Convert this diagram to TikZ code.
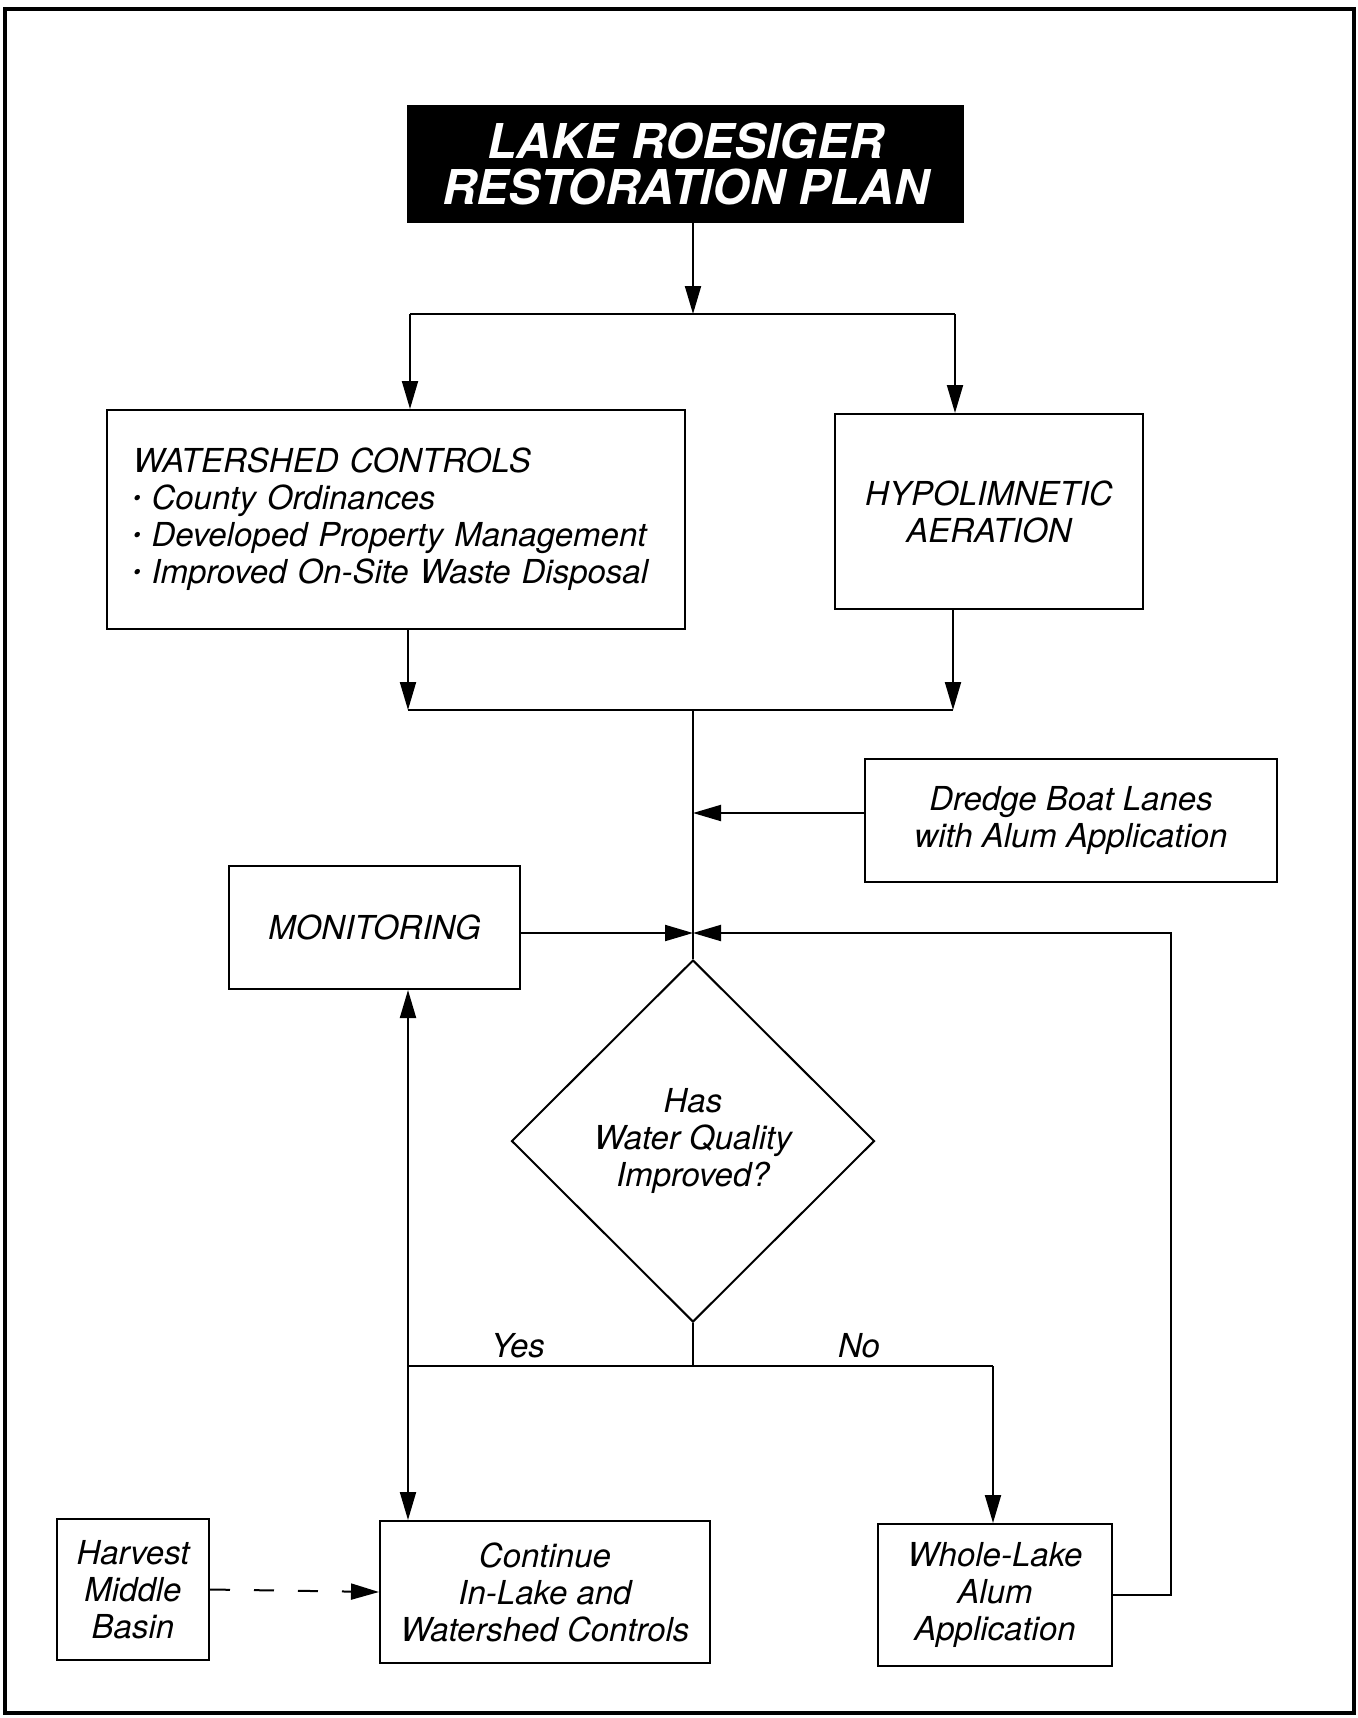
\documentclass[tikz,border=0pt]{standalone}
\usepackage{fontspec}
\setmainfont{TeX Gyre Heros}
\usetikzlibrary{arrows.meta,shapes.geometric}
\newcommand\mybul{\raisebox{0.25ex}{\scalebox{0.65}{\textbullet}}\ }
\begin{document}
\begin{tikzpicture}[x=1pt,y=-1pt,
  every node/.style={font=\itshape\fontsize{33}{37}\selectfont},
  box/.style={draw, line width=2pt, inner sep=0pt, align=center},
  ln/.style={line width=2pt},
  arr/.style={-{Triangle[length=28pt,width=16pt]}}]
\useasboundingbox (0,0) rectangle (1357,1718);
\draw[line width=4pt] (5,9) rectangle (1354,1713);

% nodes
\node[fill=black, text=white, inner sep=0pt, minimum width=557pt, minimum height=118pt,
  align=center, font=\bfseries\itshape\fontsize{48}{46}\selectfont] (title) at (685.5,164)
  {LAKE ROESIGER\\RESTORATION PLAN};
\node[box, minimum width=578pt, minimum height=219pt, text width=526pt, align=left] (ws) at (396,519.5)
  {WATERSHED CONTROLS\\ \mybul County Ordinances\\ \mybul Developed Property Management\\ \mybul Improved On-Site Waste Disposal};
\node[box, minimum width=308pt, minimum height=195pt] (hy) at (989,511.5) {HYPOLIMNETIC\\AERATION};
\node[box, minimum width=412pt, minimum height=123pt] (dr) at (1071,820.5) {Dredge Boat Lanes\\with Alum Application};
\node[box, minimum width=291pt, minimum height=123pt] (mon) at (374.5,927.5) {MONITORING};
\node[diamond, draw, line width=2pt, aspect=1, inner sep=0pt, minimum width=363pt, minimum height=362pt,
  align=center] (dia) at (693,1141) {Has\\Water Quality\\Improved?};
\node[box, minimum width=152pt, minimum height=141pt] (hv) at (133,1589.5) {Harvest\\Middle\\Basin};
\node[box, minimum width=330pt, minimum height=142pt] (cont) at (545,1592) {Continue\\In-Lake and\\Watershed Controls};
\node[box, minimum width=234pt, minimum height=142pt] (wl) at (995,1595) {Whole-Lake\\Alum\\Application};
\node (yes) at (518,1346) {Yes};
\node (no) at (859,1346) {No};

% junction coordinates
\coordinate (j1) at (693,314);
\coordinate (bl) at (410,314);
\coordinate (br) at (955,314);
\coordinate (ml) at (408,710);
\coordinate (mr) at (953,710);
\coordinate (j2) at (693,710);
\coordinate (cv) at (693,933);
\coordinate (fb) at (1171,933);
\coordinate (j3) at (693,1366);
\coordinate (yl) at (408,1366);
\coordinate (nr) at (993,1366);

% connectors
\draw[ln,arr] (title.south -| j1) -- (j1);
\draw[ln] (bl) -- (br);
\draw[ln,arr] (bl) -- (bl |- ws.north);
\draw[ln,arr] (br) -- (br |- hy.north);
\draw[ln,arr] (ws.south -| ml) -- (ml);
\draw[ln,arr] (hy.south -| mr) -- (mr);
\draw[ln] (ml) -- (mr);
\draw[ln] (j2) -- (dia.north);
\draw[ln,arr] ([yshift=7.5pt]dr.west) -- ([yshift=7.5pt]dr.west -| j2);
\draw[ln,arr] (mon.east |- cv) -- (cv);
\draw[ln,arr] (wl.east) -- (wl.east -| fb) -- (fb) -- (cv);
\draw[ln] (dia.south) -- (j3);
\draw[ln] (yl) -- (nr);
\draw[ln,arr] (yl) -- (mon.south -| yl);
\draw[ln,arr] (yl) -- (cont.north -| yl);
\draw[ln,arr] (nr) -- (wl.north -| nr);
\draw[ln,arr,dash pattern=on 20pt off 24pt] (hv.east) -- (cont.west);
\end{tikzpicture}
\end{document}
